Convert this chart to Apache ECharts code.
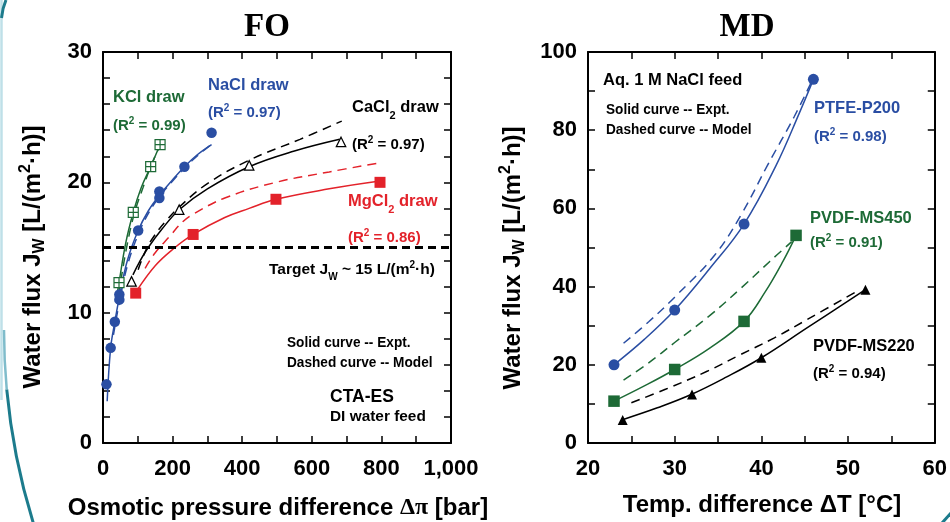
<!DOCTYPE html>
<html><head><meta charset="utf-8">
<script src="https://cdn.jsdelivr.net/npm/echarts@6/dist/echarts.min.js"></script>
<style>html,body{margin:0;padding:0;background:#fff}#c{width:950px;height:522px}</style>
</head><body><div id="c"></div>
<script>
// ---------- FO panel data (x: osmotic pressure difference [bar], y: water flux) ----------
const kclX   = [46, 87, 137, 164];
const kclY   = [12.3, 17.7, 21.2, 22.9];
const naclX  = [10, 22, 34, 47, 47, 101, 162, 162, 234, 312];
const naclY  = [4.5, 7.3, 9.3, 11.0, 11.4, 16.3, 19.3, 18.8, 21.2, 23.8];
const cacl2X = [82, 219, 420, 684];
const cacl2Y = [12.4, 17.9, 21.3, 23.1];
const mgcl2X = [94, 259, 497, 796];
const mgcl2Y = [11.5, 16.0, 18.7, 20.0];

const kclExptX   = [38, 46, 65, 87, 110, 137, 164];
const kclExptY   = [11.0, 12.3, 15.3, 17.7, 19.6, 21.2, 22.9];
const kclModelX  = [44, 52, 70, 90, 115, 140, 162];
const kclModelY  = [11.3, 12.6, 15.3, 17.6, 19.6, 21.4, 22.7];
const naclExptX  = [12, 22, 34, 47, 70, 101, 130, 162, 200, 234, 270, 312];
const naclExptY  = [3.2, 7.3, 9.3, 11.2, 14.0, 16.3, 17.8, 19.0, 20.2, 21.2, 22.1, 22.9];
const naclModelX = [30, 47, 70, 101, 130, 162, 200, 234, 270, 311];
const naclModelY = [8.3, 10.8, 13.6, 16.0, 17.6, 18.9, 20.1, 21.1, 22.0, 22.9];
const cacl2ExptX  = [86, 105, 130, 169, 219, 300, 420, 550, 680];
const cacl2ExptY  = [12.9, 13.9, 15.0, 16.4, 17.9, 19.5, 21.2, 22.4, 23.3];
const cacl2ModelX = [101, 125, 150, 180, 219, 300, 420, 566, 686];
const cacl2ModelY = [13.3, 14.9, 16.0, 17.0, 18.1, 19.9, 21.7, 23.3, 24.7];
const mgcl2ExptX  = [100, 150, 200, 259, 350, 420, 497, 650, 796];
const mgcl2ExptY  = [11.8, 13.6, 14.85, 16.0, 17.3, 18.0, 18.7, 19.5, 20.1];
const mgcl2ModelX = [121, 150, 193, 230, 262, 350, 497, 650, 796];
const mgcl2ModelY = [13.4, 14.6, 15.9, 17.0, 17.6, 18.8, 20.0, 20.8, 21.5];
const targetX = [0, 1000];
const targetY = [15, 15];

// ---------- MD panel data (x: temperature difference [°C], y: water flux) ----------
const ptfeX  = [23, 30, 38, 46];
const ptfeY  = [20, 34, 56, 93];
const ms450X = [23, 30, 38, 44];
const ms450Y = [10.7, 18.8, 31.1, 53.1];
const ms220X = [24, 32, 40, 52];
const ms220Y = [5.9, 12.4, 21.8, 39.2];

const ptfeExptX   = [23, 26.5, 30, 34, 38, 41.7, 44.4, 46];
const ptfeExptY   = [20, 26.5, 34, 44.5, 56, 71, 84.5, 93];
const ptfeModelX  = [24.1, 27, 30, 34.6, 37.7, 40.7, 43.8, 45.7];
const ptfeModelY  = [25.5, 31, 37.3, 48, 58.5, 71, 83.5, 92];
const ms450ExptX  = [23, 26.5, 30, 34, 38, 40.4, 42.5, 44];
const ms450ExptY  = [10.7, 14.6, 18.8, 24.2, 31.1, 38.5, 46.5, 53.1];
const ms450ModelX = [24.1, 27, 30, 34, 37.7, 41, 43.5];
const ms450ModelY = [16.1, 20.5, 25.7, 32.5, 39.7, 46.5, 51.5];
const ms220ExptX  = [23.9, 28, 31.9, 36, 40, 45.3, 52];
const ms220ExptY  = [5.9, 9.0, 12.4, 16.9, 21.8, 29.5, 39.2];
const ms220ModelX = [25, 29, 33.8, 37.5, 41.5, 45.3, 51.1];
const ms220ModelY = [10.3, 13.8, 18.4, 22.5, 26.9, 31.6, 38.9];

// tick labels
const foXLabels = [0, 200, 400, 600, 800, 1000];
const foYLabels = [0, 10, 20, 30];
const mdXLabels = [20, 30, 40, 50, 60];
const mdYLabels = [0, 20, 40, 60, 80, 100];

// ---------- styling ----------
const F = '"Liberation Sans", Arial, Helvetica, sans-serif';
const SERIF = '"Liberation Serif", "Times New Roman", serif';
const BLUE = '#2a4ea3', GREEN = '#1d6a36', RED = '#e3222a', BLACK = '#000';
const zip = (xs, ys) => xs.map((x, i) => [x, ys[i]]);

function curve(name, xs, ys, color, dashed, xi) {
  return { name, type: 'line', xAxisIndex: xi, yAxisIndex: xi, data: zip(xs, ys), smooth: 0.4,
    showSymbol: false, silent: true, z: 2,
    lineStyle: { color, width: 1.5, type: dashed ? [9, 6] : 'solid' } };
}
function pts(name, xs, ys, symbol, size, fill, stroke, xi) {
  return { name, type: 'scatter', xAxisIndex: xi, yAxisIndex: xi, data: zip(xs, ys), symbol, symbolSize: size,
    z: 5, itemStyle: { color: fill, borderColor: stroke || fill, borderWidth: stroke ? 1.2 : 0, opacity: 1 } };
}
const tick = { inside: true, length: 7, lineStyle: { color: '#000', width: 1.5 } };
const aline = { show: true, onZero: false, lineStyle: { color: '#000', width: 2 } };
function xAx(g, min, max, interval, labels, pos, show, fmt) {
  return { type: 'value', gridIndex: g, min, max, interval, position: pos,
    axisLine: aline, axisTick: tick, splitLine: { show: false },
    axisLabel: { show: show, margin: 15, color: '#000', fontFamily: F, fontWeight: 'bold', fontSize: 22,
      formatter: v => labels.indexOf(v) >= 0 ? fmt(v) : '' } };
}
function yAx(g, min, max, interval, labels, pos, show) {
  return { type: 'value', gridIndex: g, min, max, interval, position: pos,
    axisLine: aline, axisTick: tick, splitLine: { show: false },
    axisLabel: { show: show, margin: 11, color: '#000', fontFamily: F, fontWeight: 'bold', fontSize: 22,
      formatter: v => labels.indexOf(v) >= 0 ? String(v) : '' } };
}

function rich(size, color, p) {
  const base = { fontSize: size, fontWeight: 'bold', fontFamily: F, fill: color, lineHeight: Math.round(size * 1.3) };
  return {
    b: base,
    sub: Object.assign({}, base, { fontSize: Math.round(size * 0.66), padding: [Math.round(size * p), 0, 0, 0] }),
    sup: Object.assign({}, base, { fontSize: Math.round(size * 0.66), padding: [0, 0, Math.round(size * 0.6), 0] }),
    g: Object.assign({}, base, { fontFamily: SERIF })
  };
}
function txt(x, y, text, size, color, opts) {
  opts = opts || {};
  return { type: 'text', x, y, rotation: opts.rot || 0, scaleX: opts.sx || 1, z: 10,
    style: { x: 0, y: 0, text, fill: color, fontSize: size, fontWeight: 'bold', fontFamily: opts.font || F,
      align: opts.align || 'left', verticalAlign: 'middle', textAlign: opts.align || 'left', textVerticalAlign: 'middle',
      rich: rich(size, color, opts.p || 1.1) } };
}

const TEAL = '#1c7b8c';
const graphic = [
  { type: 'line', shape: { x1: 1.5, y1: 0, x2: 1.5, y2: 400 }, style: { stroke: '#bfe0e8', lineWidth: 2.5 } },
  { type: 'arc', shape: { cx: 654, cy: 330, r: 650, startAngle: 2.78, endAngle: 3.05, clockwise: true },
    style: { stroke: TEAL, lineWidth: 3, fill: null } },
  { type: 'arc', shape: { cx: 654, cy: 330, r: 650, startAngle: 3.05, endAngle: Math.PI, clockwise: true },
    style: { stroke: '#7fbccb', lineWidth: 2.5, fill: null } },
  { type: 'bezierCurve', shape: { x1: 6, y1: 0, cpx1: 2.5, cpy1: 8, x2: 1.5, y2: 18 }, style: { stroke: TEAL, lineWidth: 3, fill: null } },
  { type: 'line', shape: { x1: 942, y1: 523, x2: 951, y2: 513 }, style: { stroke: TEAL, lineWidth: 3 } },

  txt(267, 27, 'FO', 33, '#000', { align: 'center', font: SERIF }),
  txt(747, 27, 'MD', 33, '#000', { align: 'center', font: SERIF }),
  txt(278, 508, '{b|Osmotic pressure difference }{g|Δπ}{b| [bar]}', 24, '#000', { align: 'center' }),
  txt(762, 505, '{b|Temp. difference ΔT [°C]}', 24, '#000', { align: 'center' }),
  txt(33, 257, '{b|Water flux J}{sub|W}{b| [L/(m}{sup|2}{b|·h)]}', 24, '#000', { align: 'center', rot: Math.PI / 2, p: 0.6 }),
  txt(513, 258, '{b|Water flux J}{sub|W}{b| [L/(m}{sup|2}{b|·h)]}', 24, '#000', { align: 'center', rot: Math.PI / 2, p: 0.6 }),

  txt(113, 97, 'KCl draw', 16.5, GREEN),
  txt(113, 126, '{b|(R}{sup|2}{b| = 0.99)}', 15, GREEN),
  txt(208, 85, 'NaCl draw', 16.5, BLUE),
  txt(208, 113, '{b|(R}{sup|2}{b| = 0.97)}', 15, BLUE),
  txt(352, 107, '{b|CaCl}{sub|2}{b| draw}', 16.5, BLACK),
  txt(352, 145, '{b|(R}{sup|2}{b| = 0.97)}', 15, BLACK),
  txt(348, 201, '{b|MgCl}{sub|2}{b| draw}', 16.5, RED),
  txt(348, 238, '{b|(R}{sup|2}{b| = 0.86)}', 15, RED),
  txt(269, 270, '{b|Target J}{sub|W}{b| ~ 15 L/(m}{sup|2}{b|·h)}', 15.5, BLACK, { p: 0.9 }),
  txt(287, 343, 'Solid curve -- Expt.', 15.5, BLACK, { sx: 0.88 }),
  txt(287, 363, 'Dashed curve -- Model', 15.5, BLACK, { sx: 0.88 }),
  txt(330, 397, 'CTA-ES', 17.5, BLACK),
  txt(330, 417, 'DI water feed', 15.4, BLACK),

  txt(603, 80, 'Aq. 1 M NaCl feed', 16.5, BLACK),
  txt(606, 110, 'Solid curve -- Expt.', 15.5, BLACK, { sx: 0.88 }),
  txt(606, 130, 'Dashed curve -- Model', 15.5, BLACK, { sx: 0.88 }),
  txt(814, 108, 'PTFE-P200', 16.5, BLUE),
  txt(814, 137, '{b|(R}{sup|2}{b| = 0.98)}', 15, BLUE),
  txt(810, 218, 'PVDF-MS450', 16.5, GREEN),
  txt(810, 243, '{b|(R}{sup|2}{b| = 0.91)}', 15, GREEN),
  txt(813, 346, 'PVDF-MS220', 16.5, BLACK),
  txt(813, 374, '{b|(R}{sup|2}{b| = 0.94)}', 15, BLACK)
];

const boxCross = 'path://M0,0L10,0L10,10L0,10Z M5,0L5,10 M0,5L10,5';

const option = {
  animation: false,
  backgroundColor: '#fff',
  grid: [
    { left: 103, top: 52, width: 348, height: 391 },
    { left: 588, top: 52, width: 348, height: 391 }
  ],
  xAxis: [
    xAx(0, 0, 1000, 100, foXLabels, 'bottom', true, v => v === 1000 ? '1,000' : String(v)),
    xAx(1, 20, 60, 5, mdXLabels, 'bottom', true, v => String(v)),
    xAx(0, 0, 1000, 100, foXLabels, 'top', false, v => ''),
    xAx(1, 20, 60, 5, mdXLabels, 'top', false, v => '')
  ],
  yAxis: [
    yAx(0, 0, 30, 2, foYLabels, 'left', true),
    yAx(1, 0, 100, 10, mdYLabels, 'left', true),
    yAx(0, 0, 30, 2, foYLabels, 'right', false),
    yAx(1, 0, 100, 10, mdYLabels, 'right', false)
  ],
  graphic,
  series: [
    { name: 'Target', type: 'line', xAxisIndex: 0, yAxisIndex: 0, data: zip(targetX, targetY), showSymbol: false,
      silent: true, z: 3, lineStyle: { color: '#000', width: 3, type: [8, 5] } },
    curve('KCl expt', kclExptX, kclExptY, GREEN, false, 0),
    curve('KCl model', kclModelX, kclModelY, GREEN, true, 0),
    curve('NaCl expt', naclExptX, naclExptY, BLUE, false, 0),
    curve('NaCl model', naclModelX, naclModelY, BLUE, true, 0),
    curve('CaCl2 expt', cacl2ExptX, cacl2ExptY, BLACK, false, 0),
    curve('CaCl2 model', cacl2ModelX, cacl2ModelY, BLACK, true, 0),
    curve('MgCl2 expt', mgcl2ExptX, mgcl2ExptY, RED, false, 0),
    curve('MgCl2 model', mgcl2ModelX, mgcl2ModelY, RED, true, 0),
    pts('KCl', kclX, kclY, boxCross, 10, '#fff', GREEN, 0),
    pts('NaCl', naclX, naclY, 'circle', 10.5, BLUE, null, 0),
    pts('CaCl2', cacl2X, cacl2Y, 'triangle', 9.5, '#fff', BLACK, 0),
    pts('MgCl2', mgcl2X, mgcl2Y, 'rect', 11, RED, null, 0),

    curve('PTFE expt', ptfeExptX, ptfeExptY, BLUE, false, 1),
    curve('PTFE model', ptfeModelX, ptfeModelY, BLUE, true, 1),
    curve('MS450 expt', ms450ExptX, ms450ExptY, GREEN, false, 1),
    curve('MS450 model', ms450ModelX, ms450ModelY, GREEN, true, 1),
    curve('MS220 expt', ms220ExptX, ms220ExptY, BLACK, false, 1),
    curve('MS220 model', ms220ModelX, ms220ModelY, BLACK, true, 1),
    pts('PTFE-P200', ptfeX, ptfeY, 'circle', 11, BLUE, null, 1),
    pts('PVDF-MS450', ms450X, ms450Y, 'rect', 11.5, GREEN, null, 1),
    pts('PVDF-MS220', ms220X, ms220Y, 'triangle', 10, BLACK, null, 1)
  ]
};
const chart = echarts.init(document.getElementById('c'), null, { renderer: 'canvas' });
chart.setOption(option);
</script></body></html>
